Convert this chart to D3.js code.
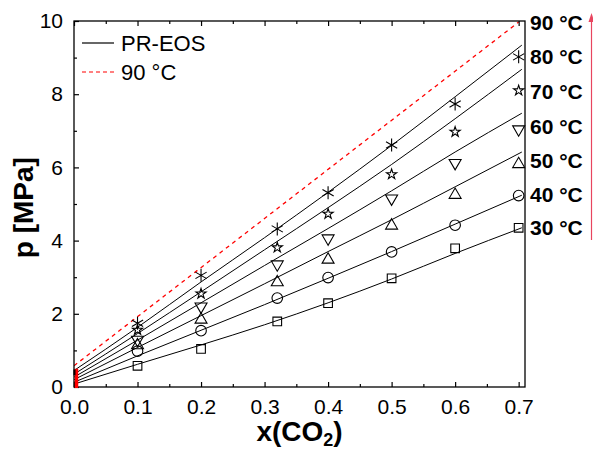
<!DOCTYPE html>
<html>
<head>
<meta charset="utf-8">
<script src="https://cdn.jsdelivr.net/npm/d3@7"></script>
<style>
  body { margin: 0; background: #fff; }
  text { font-family: Arial, "Liberation Sans", sans-serif; }
</style>
</head>
<body>
<script>
// measured points, x(CO2) vs p [MPa]
var xExp = [0.1, 0.2, 0.32, 0.4, 0.5, 0.6, 0.7];
var p30 = [0.58, 1.04, 1.79, 2.29, 2.97, 3.79, 4.35];
var p40 = [0.98, 1.54, 2.43, 2.99, 3.69, 4.42, 5.23];
var p50 = [1.18, 1.88, 2.90, 3.52, 4.45, 5.29, 6.13];
var p60 = [1.25, 2.16, 3.31, 4.02, 5.11, 6.08, 7.00];
var p70 = [1.56, 2.55, 3.81, 4.73, 5.81, 6.97, 8.10];
var p80 = [1.74, 3.05, 4.32, 5.31, 6.61, 7.73, 9.02];

// PR-EOS curves
var xFit = [0, 0.1, 0.2, 0.3, 0.4, 0.5, 0.6, 0.705];
var fit30 = [0.08, 0.62, 1.15, 1.70, 2.30, 2.95, 3.65, 4.35];
var fit40 = [0.13, 0.85, 1.55, 2.25, 2.97, 3.70, 4.45, 5.24];
var fit50 = [0.20, 1.08, 1.95, 2.82, 3.70, 4.57, 5.47, 6.42];
var fit60 = [0.27, 1.28, 2.30, 3.32, 4.33, 5.36, 6.42, 7.48];
var fit70 = [0.35, 1.46, 2.60, 3.75, 4.90, 6.08, 7.33, 8.68];
var fit80 = [0.45, 1.63, 2.87, 4.08, 5.32, 6.60, 7.93, 9.34];

// 90 °C dashed curve
var x90 = [0, 0.7];
var fit90 = [0.58, 9.97];

// pure solvent at x = 0
var pureRange = [0, 0.5];

var temps = ['30 °C', '40 °C', '50 °C', '60 °C', '70 °C', '80 °C', '90 °C'];
var labelY = [4.35, 5.26, 6.20, 7.12, 8.08, 9.03, 9.97];
var xTicks = [0.0, 0.1, 0.2, 0.3, 0.4, 0.5, 0.6, 0.7];
var yTicks = [0, 2, 4, 6, 8, 10];

var W = 593, H = 452;
var margin = {top: 21, right: 68, bottom: 65, left: 74};

var svg = d3.select('body').append('svg')
  .attr('width', W)
  .attr('height', H);

var x = d3.scaleLinear().domain([0, 0.71]).range([margin.left, W - margin.right]);
var y = d3.scaleLinear().domain([0, 10]).range([H - margin.bottom, margin.top]);

svg.append('clipPath').attr('id', 'plot')
  .append('rect')
  .attr('x', x(0)).attr('y', y(10))
  .attr('width', x(0.71) - x(0)).attr('height', y(0) - y(10));

var plot = svg.append('g').attr('clip-path', 'url(#plot)');

var line = d3.line().curve(d3.curveMonotoneX);

// fitted curves
[fit30, fit40, fit50, fit60, fit70, fit80].forEach(function(f) {
  plot.append('path')
    .attr('d', line(xFit.map(function(v, i) { return [x(v), y(f[i])]; })))
    .attr('fill', 'none').attr('stroke', '#000').attr('stroke-width', 1);
});

plot.append('path')
  .attr('d', line(x90.map(function(v, i) { return [x(v), y(fit90[i])]; })))
  .attr('fill', 'none').attr('stroke', '#ff0000').attr('stroke-width', 1.3)
  .attr('stroke-dasharray', '4,4');

// markers
var tri = d3.symbol().type(d3.symbolTriangle).size(62)();
var shapes = [
  {data: p30, path: d3.symbol().type(d3.symbolSquare).size(75)(), rot: 0},
  {data: p40, path: d3.symbol().type(d3.symbolCircle).size(88)(), rot: 0},
  {data: p50, path: tri, rot: 0, dy: 1.5},
  {data: p60, path: tri, rot: 180, dy: -1.5},
  {data: p70, path: d3.symbol().type(d3.symbolStar).size(32)(), rot: 0},
  {data: p80, path: 'M0,-6.5V6.5M-5.6,-3.25L5.6,3.25M-5.6,3.25L5.6,-3.25', rot: 0}
];

shapes.forEach(function(s) {
  svg.append('g').selectAll('path')
    .data(xExp)
    .enter()
    .append('path')
    .attr('d', s.path)
    .attr('transform', function(d, i) {
      return 'translate(' + x(d) + ',' + (y(s.data[i]) + (s.dy || 0)) + ') rotate(' + s.rot + ')';
    })
    .attr('fill', 'none')
    .attr('stroke', '#000')
    .attr('stroke-width', 1.1);
});

// axes, ticks pointing inward
var axBottom = d3.axisBottom(x).tickValues(xTicks).tickSize(-5).tickPadding(12)
  .tickFormat(d3.format('.1f'));
var axBottomMinor = d3.axisBottom(x).tickValues(d3.range(0.05, 0.71, 0.1)).tickSize(-3).tickFormat('');
var axLeft = d3.axisLeft(y).tickValues(yTicks).tickSize(-5).tickPadding(11);
var axLeftMinor = d3.axisLeft(y).tickValues([1, 3, 5, 7, 9]).tickSize(-3).tickFormat('');
var axTop = d3.axisTop(x).tickValues(xTicks).tickSize(-5).tickFormat('');
var axTopMinor = d3.axisTop(x).tickValues(d3.range(0.05, 0.71, 0.1)).tickSize(-3).tickFormat('');

function styleAxis(g) {
  g.select('.domain').remove();
  g.selectAll('line').attr('stroke', '#000').attr('stroke-width', 1.2);
  g.selectAll('text').attr('font-size', 21).attr('fill', '#000')
    .style('font-family', 'Arial, "Liberation Sans", sans-serif');
}

svg.append('g').attr('transform', 'translate(0,' + y(0) + ')').call(axBottom).call(styleAxis);
svg.append('g').attr('transform', 'translate(0,' + y(0) + ')').call(axBottomMinor).call(styleAxis);
svg.append('g').attr('transform', 'translate(' + x(0) + ',0)').call(axLeft).call(styleAxis);
svg.append('g').attr('transform', 'translate(' + x(0) + ',0)').call(axLeftMinor).call(styleAxis);
svg.append('g').attr('transform', 'translate(0,' + y(10) + ')').call(axTop).call(styleAxis);
svg.append('g').attr('transform', 'translate(0,' + y(10) + ')').call(axTopMinor).call(styleAxis);

// frame
svg.append('rect')
  .attr('x', x(0)).attr('y', y(10))
  .attr('width', x(0.71) - x(0)).attr('height', y(0) - y(10))
  .attr('fill', 'none').attr('stroke', '#000').attr('stroke-width', 1.3);

// red bar at x = 0 (drawn over the frame)
svg.append('line')
  .attr('x1', x(0) + 2.5).attr('x2', x(0) + 2.5)
  .attr('y1', y(pureRange[0]) + 1).attr('y2', y(pureRange[1]))
  .attr('stroke', '#ff0000').attr('stroke-width', 3.5);
svg.append('line')
  .attr('x1', x(0) + 0.5).attr('x2', x(0) + 0.5)
  .attr('y1', y(0.32)).attr('y2', y(0.48))
  .attr('stroke', '#000').attr('stroke-width', 2);

// axis titles
var xt = svg.append('text')
  .attr('x', (x(0) + x(0.71)) / 2).attr('y', 441)
  .attr('text-anchor', 'middle')
  .attr('font-size', 28).attr('font-weight', 'bold');
xt.append('tspan').text('x(CO');
xt.append('tspan').text('2').attr('font-size', 18).attr('dy', 5);
xt.append('tspan').text(')').attr('dy', -5);

svg.append('text')
  .attr('transform', 'translate(33,' + y(4.9) + ') rotate(-90)')
  .attr('text-anchor', 'middle')
  .attr('font-size', 28).attr('font-weight', 'bold')
  .text('p [MPa]');

// legend
svg.append('line').attr('x1', 82).attr('x2', 114).attr('y1', 43).attr('y2', 43)
  .attr('stroke', '#000').attr('stroke-width', 1.2);
svg.append('text').attr('x', 121).attr('y', 51).attr('font-size', 22).text('PR-EOS');
svg.append('line').attr('x1', 82).attr('x2', 114).attr('y1', 72).attr('y2', 72)
  .attr('stroke', '#ff0000').attr('stroke-width', 1.2).attr('stroke-dasharray', '4,3');
svg.append('text').attr('x', 121).attr('y', 80).attr('font-size', 22).text('90 °C');

// temperature labels on the right
svg.append('g').selectAll('text')
  .data(temps)
  .enter()
  .append('text')
  .attr('x', 530)
  .attr('y', function(d, i) { return y(labelY[i]); })
  .attr('dy', '0.36em')
  .attr('font-size', 21)
  .attr('font-weight', 'bold')
  .text(function(d) { return d; });

// arrow
svg.append('line').attr('x1', 591.5).attr('x2', 591.5).attr('y1', 240).attr('y2', 18)
  .attr('stroke', '#e8455f').attr('stroke-width', 1.2);
svg.append('path').attr('d', 'M591.5,13 L588.5,22 L594.5,22 Z').attr('fill', '#e8455f');
</script>
</body>
</html>
